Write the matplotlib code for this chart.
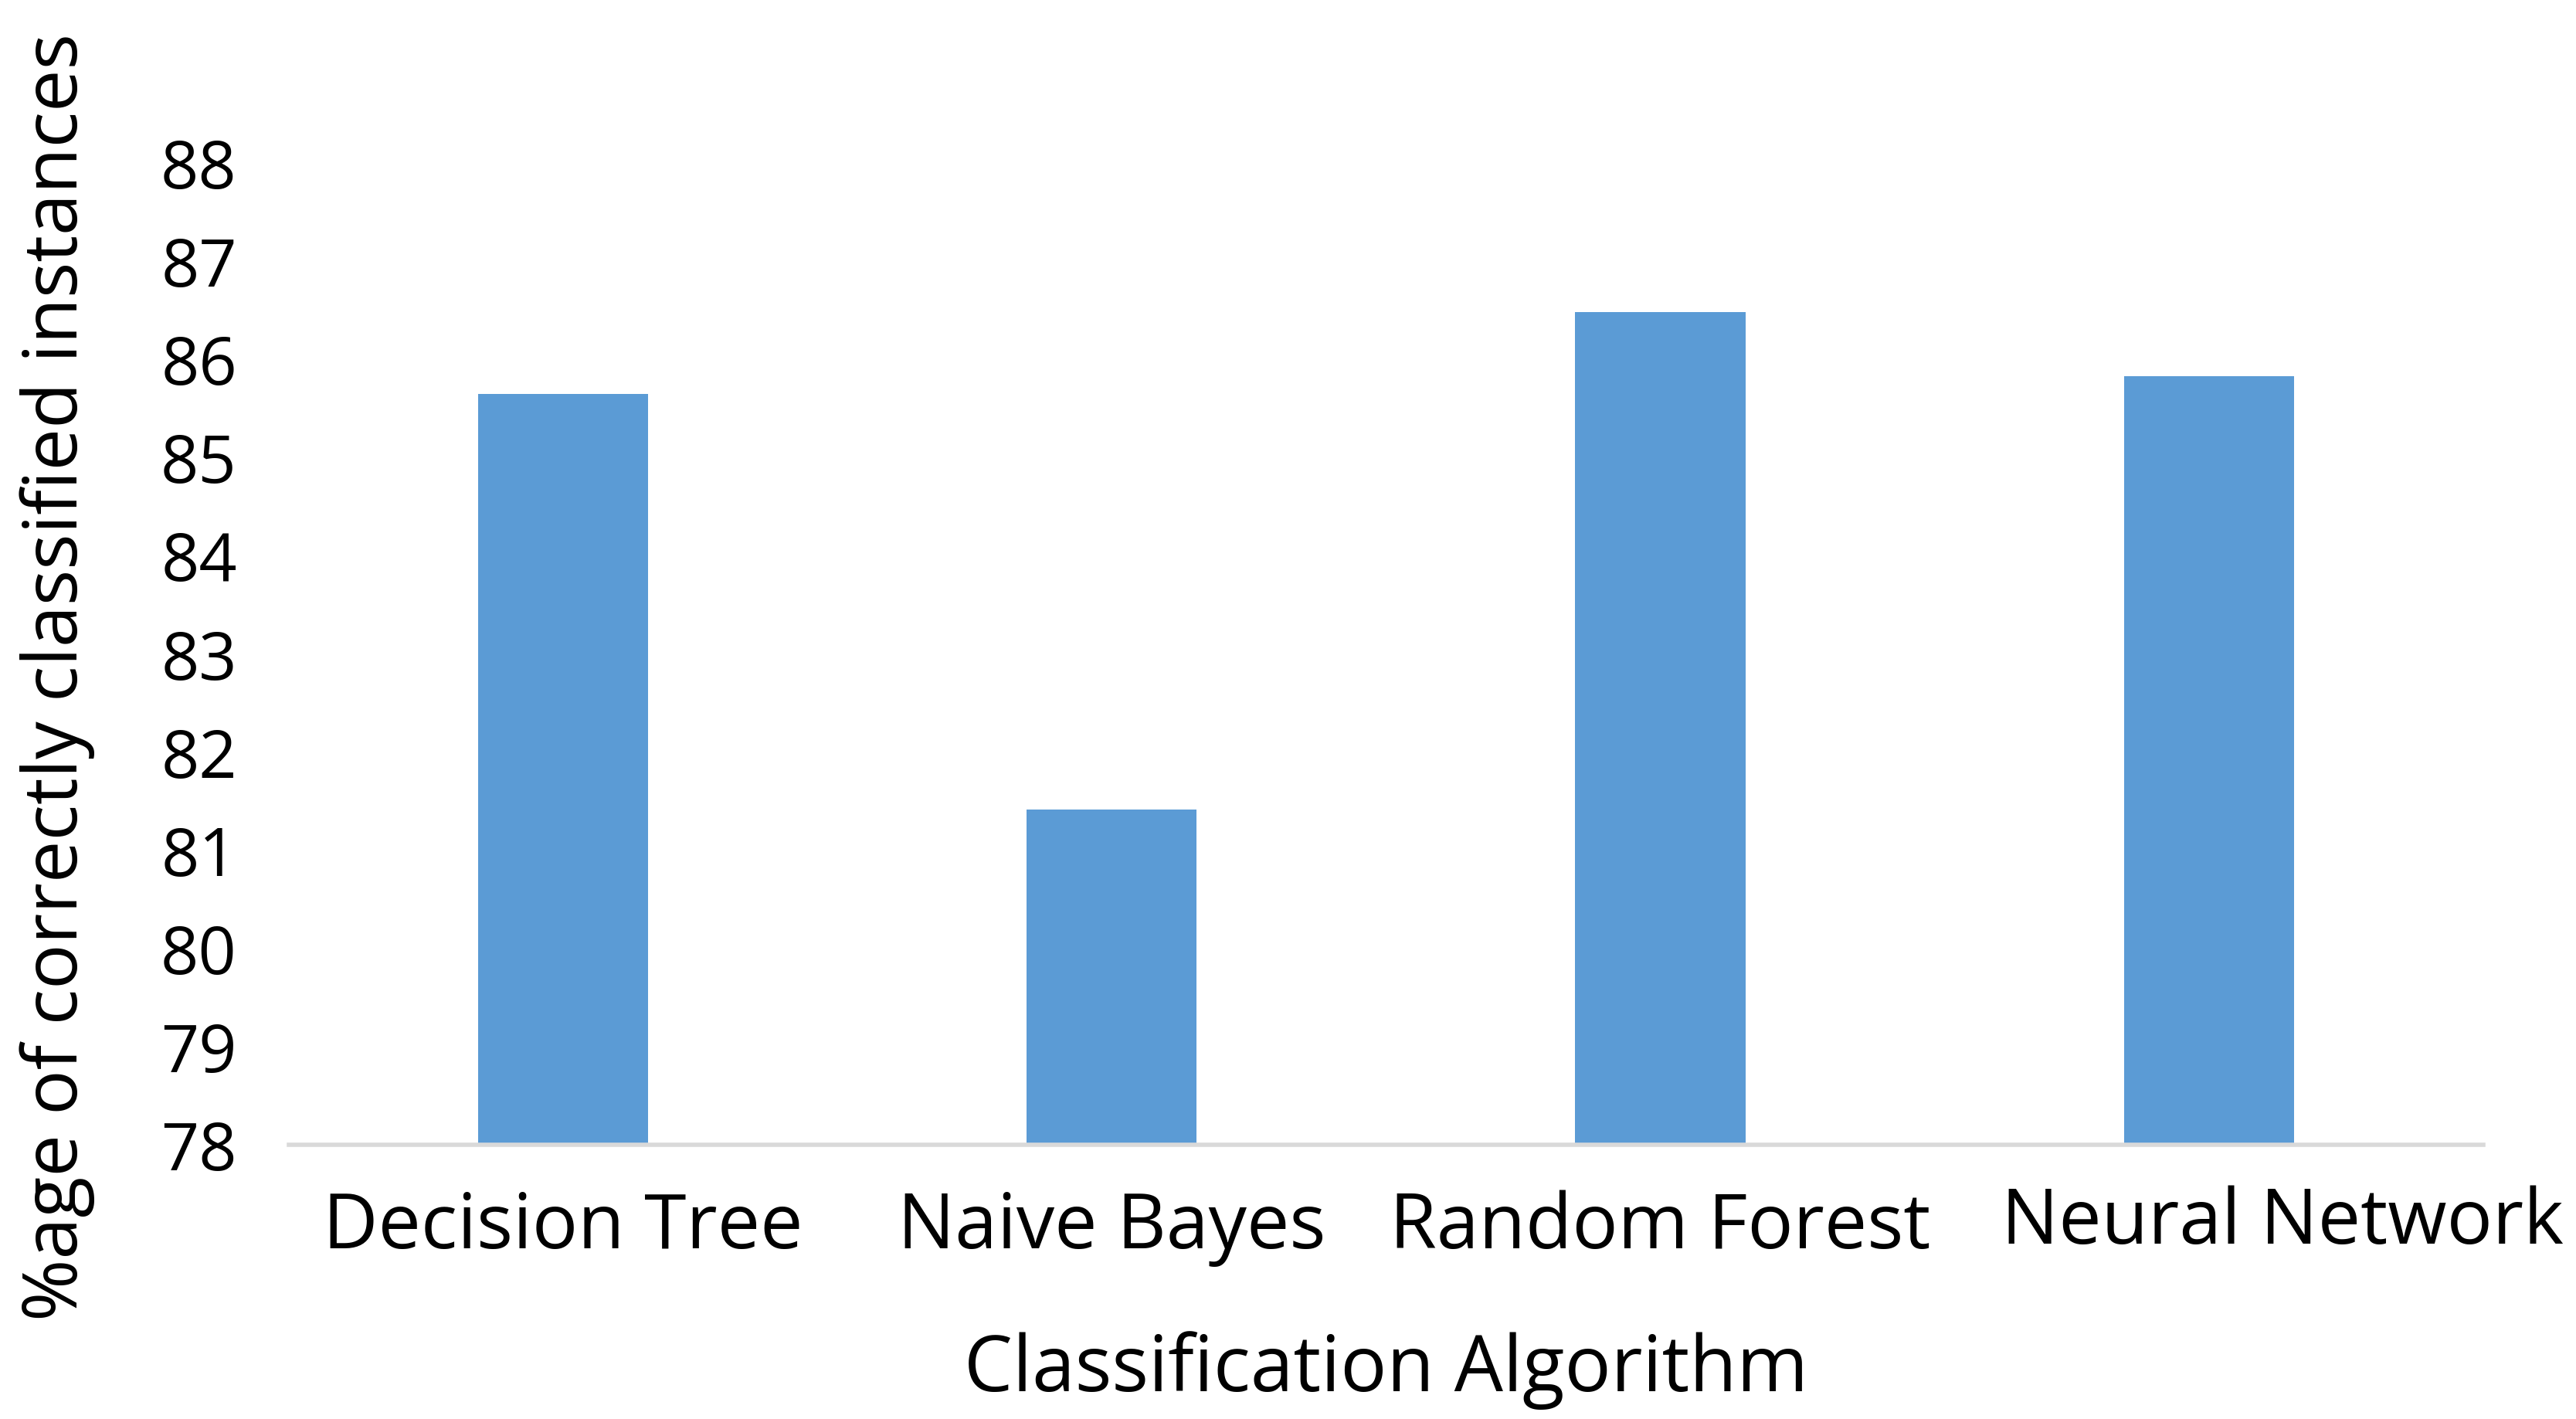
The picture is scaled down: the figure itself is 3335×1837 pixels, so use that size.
import matplotlib
matplotlib.use("Agg")
import matplotlib.pyplot as plt
import matplotlib.transforms as mtransforms

categories = ["Decision Tree", "Naive Bayes", "Random Forest", "Neural Network"]
accuracy = [85.65, 81.42, 86.48, 85.83]
y_ticks = [78, 79, 80, 81, 82, 83, 84, 85, 86, 87, 88]

plt.rcParams['font.family'] = ['Open Sans', 'DejaVu Sans']

fig = plt.figure(figsize=(33.35, 18.37), dpi=100)
ax = fig.add_axes([0.112, 0.193, 0.852, 0.692])

x = range(len(categories))
ax.bar(x, accuracy, width=0.31, color='#5B9BD5', zorder=2)

ax.set_ylim(78, 88)
ax.set_xlim(-0.5, len(categories) - 0.5)
ax.set_yticks(y_ticks)
ax.set_yticklabels([str(t) for t in y_ticks], fontsize=62)
ax.set_xticks(list(x))
ax.set_xticklabels(categories, fontsize=71)
ax.tick_params(axis='both', length=0)
ax.tick_params(axis='x', pad=42)
ax.tick_params(axis='y', pad=48)

# last label sits a bit to the right, like in the original chart
last = ax.get_xticklabels()[-1]
shift = mtransforms.ScaledTranslation(0.95, 0.06, fig.dpi_scale_trans)
last.set_transform(last.get_transform() + shift)

for side in ['top', 'right', 'left']:
    ax.spines[side].set_visible(False)
ax.spines['bottom'].set_color('#D9D9D9')
ax.spines['bottom'].set_linewidth(4)

ax.set_xlabel("Classification Algorithm", fontsize=72, labelpad=60)
ax.set_ylabel("%age of correctly classified instances", fontsize=70)
ax.yaxis.set_label_coords(-0.088, 0.477)

fig.savefig("out.png", dpi=100, facecolor='white')
